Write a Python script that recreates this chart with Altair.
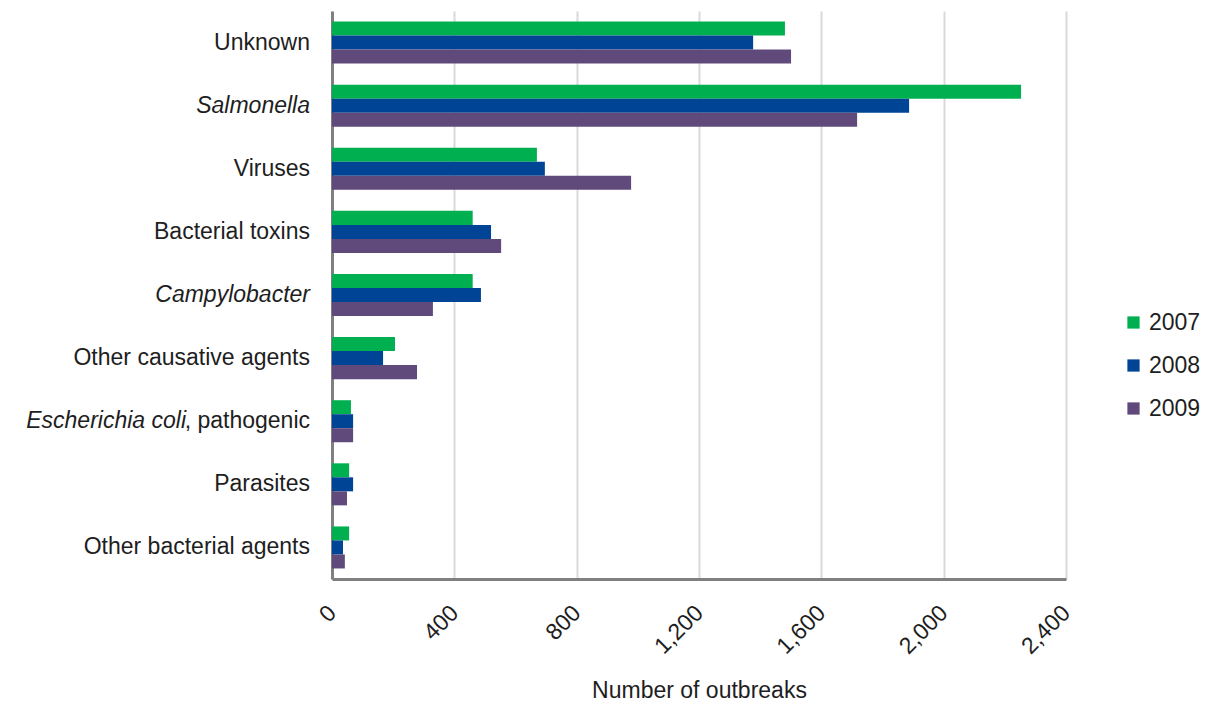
import altair as alt
import pandas as pd

categories = ["Unknown", "Salmonella", "Viruses", "Bacterial toxins", "Campylobacter",
              "Other causative agents", "Escherichia coli, pathogenic", "Parasites",
              "Other bacterial agents"]
years = ["2007", "2008", "2009"]
v2007 = [1481, 2253, 670, 460, 460, 206, 62, 56, 56]
v2008 = [1377, 1887, 696, 520, 487, 167, 69, 69, 36]
v2009 = [1501, 1717, 978, 553, 330, 278, 69, 49, 42]
colors = ["#00B050", "#004595", "#604A7B"]

normal_part = ["Unknown", "", "Viruses", "Bacterial toxins", "", "Other causative agents",
               ", pathogenic", "Parasites", "Other bacterial agents"]
italic_part = ["", "Salmonella", "", "", "Campylobacter", "", "Escherichia coli", "", ""]
mixed = [False, False, False, False, False, False, True, False, False]

x_ticks = [0, 400, 800, 1200, 1600, 2000, 2400]

rows = []
for i, c in enumerate(categories):
    for y, vals in zip(years, [v2007, v2008, v2009]):
        rows.append({"category": c, "year": y, "value": vals[i]})
df = pd.DataFrame(rows)

lab = pd.DataFrame({"category": categories, "normal": normal_part,
                    "italic": italic_part, "mixed": mixed})

FONT = "Liberation Sans"
TXT = "#1E1E1E"
FS = 23

yaxis = alt.Axis(labels=False, ticks=False, domain=True, domainColor="#808080",
                 domainWidth=3, grid=False, title=None)
yenc = alt.Y("category:N", sort=categories, axis=yaxis,
             scale=alt.Scale(paddingInner=0.334, paddingOuter=0.167))

bars = alt.Chart(df).mark_bar().encode(
    x=alt.X("value:Q",
            scale=alt.Scale(domain=[0, 2400], nice=False),
            axis=alt.Axis(values=x_ticks, format=",.0f", labelAngle=315,
                          labelAlign="right", labelBaseline="middle",
                          labelPadding=30, ticks=False, domain=True,
                          domainColor="#808080", domainWidth=3,
                          grid=True, gridColor="#D9D9D9", gridWidth=2,
                          labelFontSize=FS, labelColor=TXT, labelFont=FONT,
                          title="Number of outbreaks", titleFontSize=FS,
                          titleFontWeight="normal", titleColor=TXT, titleFont=FONT,
                          titleBaseline="middle", titleY=111)),
    y=yenc,
    yOffset=alt.YOffset("year:N", sort=years,
                        scale=alt.Scale(paddingInner=0, paddingOuter=0)),
    color=alt.Color("year:N", sort=years,
                    scale=alt.Scale(domain=years, range=colors),
                    legend=alt.Legend(title=None, orient="none", legendX=790,
                                      legendY=300, symbolType="square",
                                      symbolSize=150, symbolStrokeWidth=0,
                                      labelFontSize=FS, labelFont=FONT,
                                      labelColor=TXT, rowPadding=19,
                                      labelOffset=4, padding=0)),
)

normal_text = alt.Chart(lab).transform_filter("datum.normal != ''").mark_text(
    align="right", baseline="middle", fontSize=FS, font=FONT, color=TXT
).encode(y=yenc, x=alt.value(-22), text="normal:N")

italic_text = alt.Chart(lab).transform_filter("datum.italic != '' && !datum.mixed").mark_text(
    align="right", baseline="middle", fontSize=FS, font=FONT, color=TXT, fontStyle="italic"
).encode(y=yenc, x=alt.value(-22), text="italic:N")

mixed_text = alt.Chart(lab).transform_filter("datum.mixed").mark_text(
    align="right", baseline="middle", fontSize=FS, font=FONT, color=TXT, fontStyle="italic"
).encode(y=yenc, x=alt.value(-146), text="italic:N")

chart = alt.layer(bars, normal_text, italic_text, mixed_text).properties(
    width=734, height=568,
    autosize=alt.AutoSizeParams(type="none"),
    padding={"left": 324, "top": 3, "right": 134, "bottom": 126},
).configure_view(stroke=None)

chart.save("out.html", embed_options={"renderer": "svg", "actions": False})
